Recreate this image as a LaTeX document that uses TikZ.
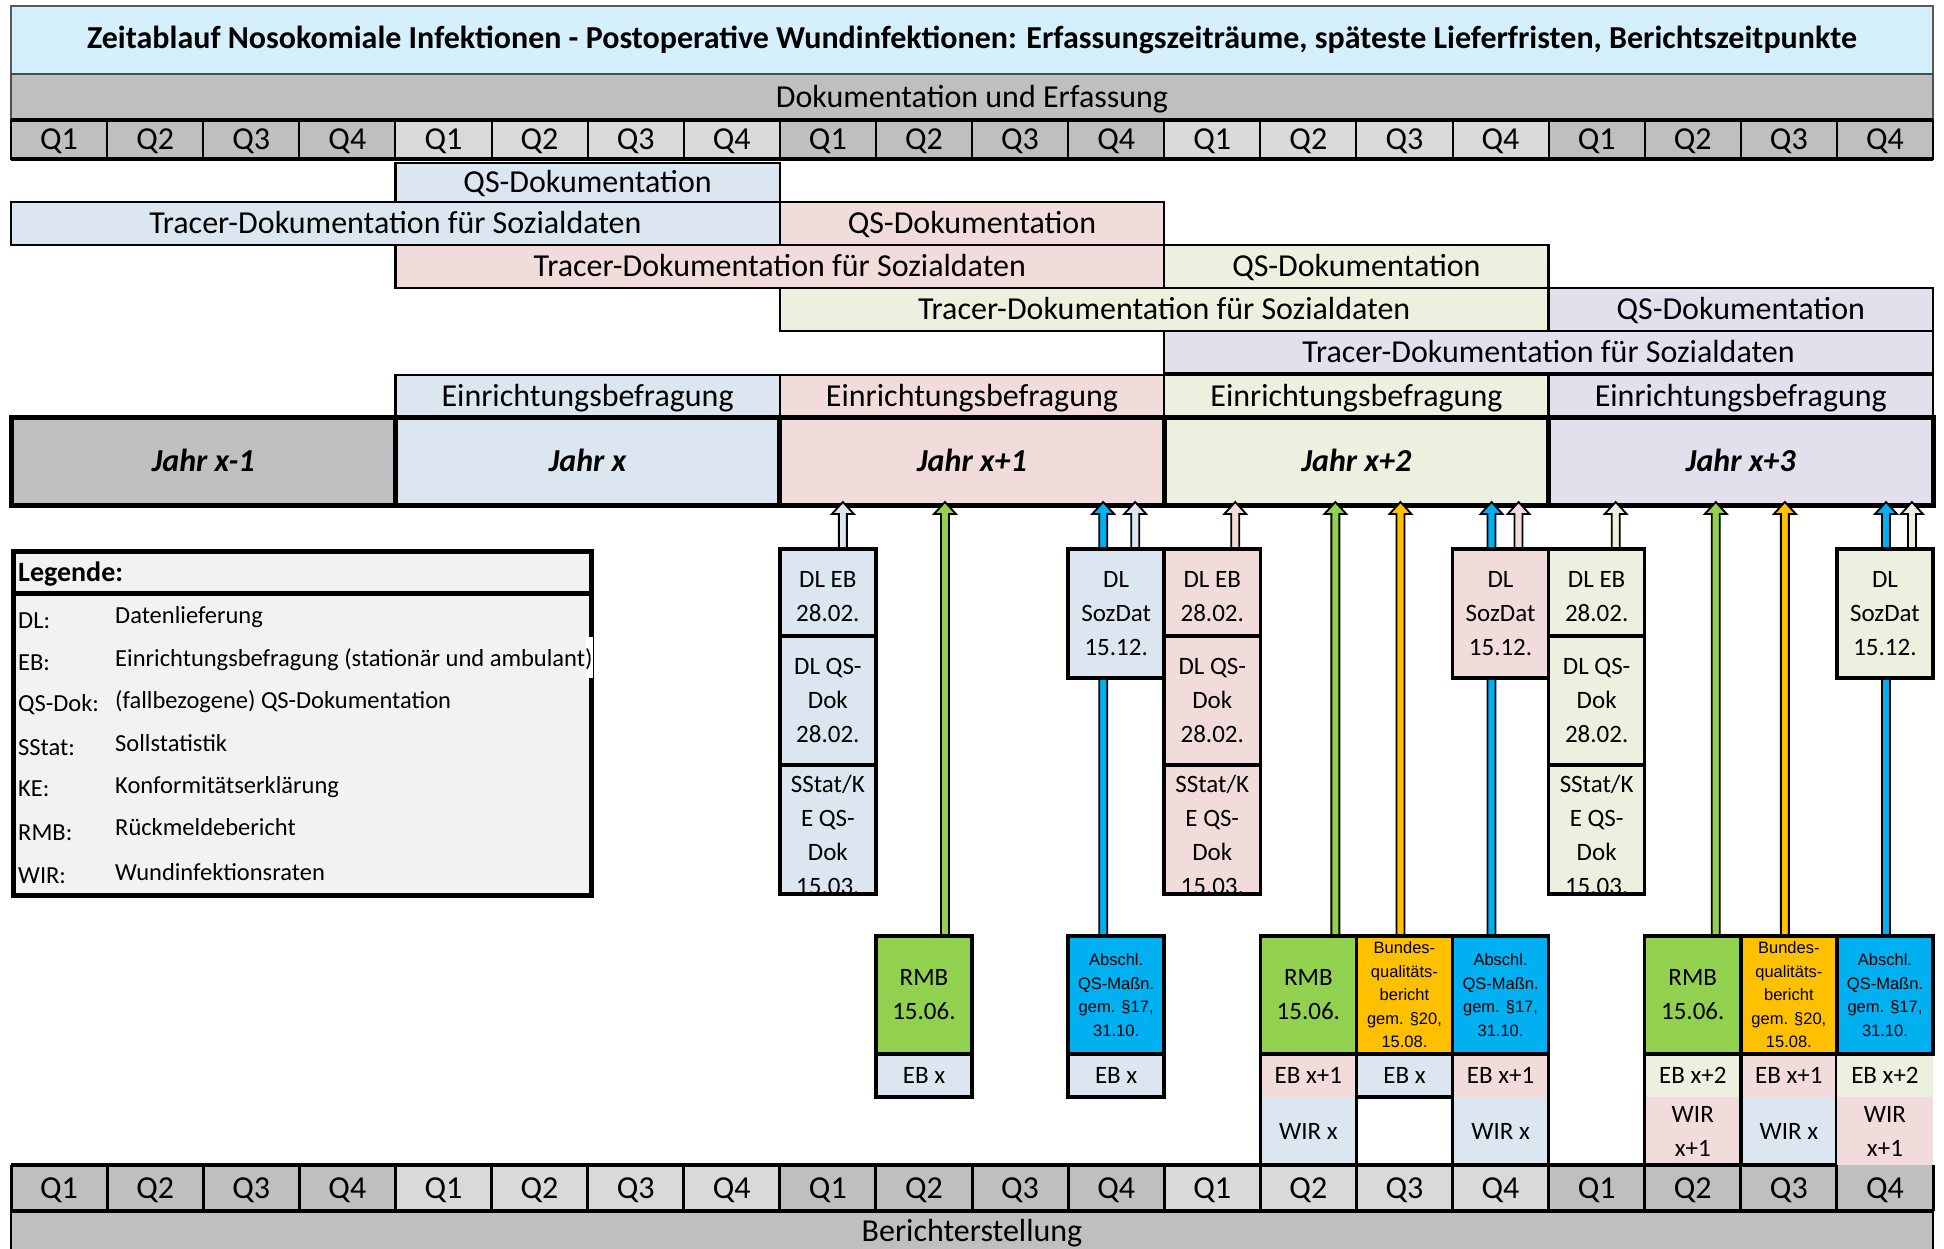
\documentclass[tikz,border=0pt]{standalone}
\usepackage{fontspec}
\setmainfont{Carlito}
\newfontfamily\arialfam{Liberation Sans}
\usetikzlibrary{calc}
\pgfdeclarelayer{bglayer}
\pgfdeclarelayer{arrlayer}
\pgfsetlayers{bglayer,arrlayer,main}

\definecolor{titlebg}{HTML}{D5EFFC}
\definecolor{dgray}{HTML}{BFBFBF}
\definecolor{lgray}{HTML}{D9D9D9}
\definecolor{cblue}{HTML}{DCE6F1}
\definecolor{cpink}{HTML}{F2DCDB}
\definecolor{cgreen}{HTML}{EBF1DE}
\definecolor{cpurple}{HTML}{E4DFEC}
\definecolor{rmbgreen}{HTML}{92D050}
\definecolor{bqorange}{HTML}{FFC000}
\definecolor{qsblue}{HTML}{00B0F0}
\definecolor{leggray}{HTML}{F2F2F2}

\newcommand\fmain{\fontsize{32}{38}\selectfont}
\newcommand\ftitle{\fontsize{32}{38}\selectfont\bfseries}
\newcommand\fjahr{\fontsize{32}{38}\selectfont\bfseries\itshape}
\newcommand\fdl{\fontsize{25}{34}\selectfont}
\newcommand\fleg{\fontsize{24.5}{30}\selectfont}
\newcommand\flegh{\fontsize{28}{34}\selectfont\bfseries}
\newcommand\fsmallbox{\arialfam\fontsize{16.5}{23.5}\selectfont}
\newcommand\lowerfirst[1]{\rule{0pt}{#1}}

% style, name, col start, col end, y top, y bottom, text
\newcommand\cellnode[7]{%
  \pgfmathsetmacro\cna{11+96.1*(#3)}%
  \pgfmathsetmacro\cnw{96.1*((#4)-(#3))}%
  \pgfmathsetmacro\cnh{(#6)-(#5)}%
  \node[#1, anchor=north west, minimum width=\cnw, minimum height=\cnh] (#2) at (\cna,#5) {#7};}

% fill colour, x shift, start anchor, target anchor
\newcommand\blkarrow[4]{%
  \draw[arrowline, fill=#1] let \p1=([xshift=#2]#3), \p2=(#4) in
    (\x1-4pt,\y1) -- (\x1-4pt,\y2-9pt) -- (\x1-11pt,\y2-9pt) -- (\x1,\y2+3pt)
    -- (\x1+11pt,\y2-9pt) -- (\x1+4pt,\y2-9pt) -- (\x1+4pt,\y1) -- cycle;}

\tikzset{
  cellbase/.style={inner sep=0pt, outer sep=0pt, align=center},
  oneline/.style={text height=20pt, text depth=0pt},
  titlec/.style={cellbase, draw=black!65, line width=1.5pt, fill=titlebg, font=\ftitle},
  bandc/.style={cellbase, draw=black!70, line width=1.5pt, fill=dgray, font=\fmain, oneline},
  qcell/.style={cellbase, draw=black, line width=2pt, font=\fmain, oneline},
  qbcell/.style={cellbase, font=\fmain, oneline},
  bar/.style={cellbase, draw=black, line width=2.5pt, font=\fmain, oneline},
  jahrc/.style={cellbase, draw=black, line width=5pt, font=\fjahr, oneline},
  dlbox/.style={cellbase, draw=black, line width=3.5pt, font=\fdl},
  topbox/.style={cellbase, draw=black, line width=3.5pt, font=\fdl},
  smallbox/.style={topbox, font=\fsmallbox},
  fillbox/.style={cellbase, font=\fdl},
  ebone/.style={text height=16pt, text depth=0pt},
  boxline/.style={draw=black, line width=3.5pt},
  thickline/.style={draw=black, line width=4pt},
  arrowline/.style={draw=black, line width=1.8pt, line join=miter},
  legabbr/.style={inner sep=0pt, anchor=base west, font=\fleg},
  legdesc/.style={inner sep=0pt, anchor=base west, font=\fleg},
}

\begin{document}
\begin{tikzpicture}[x=1pt,y=-1pt]
\useasboundingbox (0,0) rectangle (1944,1248);

\begin{pgfonlayer}{bglayer}
\fill[white] (0,0) rectangle (1944,1248);
\cellnode{titlec}{title}{0}{20}{6}{74}{Zeitablauf Nosokomiale Infektionen - Postoperative Wundinfektionen: Erfassungszeiträume, späteste Lieferfristen, Berichtszeitpunkte}
\cellnode{bandc}{band}{0}{20}{74}{120}{Dokumentation und Erfassung}
\foreach \i in {0,...,19}{
  \pgfmathtruncatemacro\qn{mod(\i,4)+1}
  \pgfmathtruncatemacro\blk{mod(floor(\i/4),2)}
  \ifnum\blk=1 \def\qc{lgray}\else\def\qc{dgray}\fi
  \cellnode{qcell,fill=\qc}{qt\i}{\i}{\i+1}{120}{159}{Q\qn}
}
\draw[thickline] (qt0.north west) -- (qt19.north east);
\draw[thickline] (qt0.south west) -- (qt19.south east);

% documentation bars
\cellnode{bar,fill=cblue}{qs1}{4}{8}{163}{202}{QS-Dokumentation}
\cellnode{bar,fill=cblue}{tr1}{0}{8}{202}{245}{Tracer-Dokumentation für Sozialdaten}
\cellnode{bar,fill=cpink}{qs2}{8}{12}{202}{245}{QS-Dokumentation}
\cellnode{bar,fill=cpink}{tr2}{4}{12}{245}{288}{Tracer-Dokumentation für Sozialdaten}
\cellnode{bar,fill=cgreen}{qs3}{12}{16}{245}{288}{QS-Dokumentation}
\cellnode{bar,fill=cgreen}{tr3}{8}{16}{288}{331}{Tracer-Dokumentation für Sozialdaten}
\cellnode{bar,fill=cpurple}{qs4}{16}{20}{288}{331}{QS-Dokumentation}
\cellnode{bar,fill=cpurple}{tr4}{12}{20}{331}{373}{Tracer-Dokumentation für Sozialdaten}

% Einrichtungsbefragung
\cellnode{bar,fill=cblue}{eb1}{4}{8}{375}{417}{Einrichtungsbefragung}
\cellnode{bar,fill=cpink}{eb2}{8}{12}{375}{417}{Einrichtungsbefragung}
\cellnode{bar,fill=cgreen}{eb3}{12}{16}{375}{417}{Einrichtungsbefragung}
\cellnode{bar,fill=cpurple}{eb4}{16}{20}{375}{417}{Einrichtungsbefragung}

% years
\cellnode{jahrc,fill=dgray}{jxm}{0}{4}{417}{505}{Jahr x-1}
\cellnode{jahrc,fill=cblue}{jx0}{4}{8}{417}{505}{Jahr x}
\cellnode{jahrc,fill=cpink}{jx1}{8}{12}{417}{505}{Jahr x+1}
\cellnode{jahrc,fill=cgreen}{jx2}{12}{16}{417}{505}{Jahr x+2}
\cellnode{jahrc,fill=cpurple}{jx3}{16}{20}{417}{505}{Jahr x+3}
\end{pgfonlayer}

% legend
\node[draw=black, line width=5pt, fill=leggray, anchor=north west, minimum width=578, minimum height=302, inner sep=0pt] (legbody) at (11,591) {};
\node[draw=black, line width=5pt, fill=leggray, anchor=north west, minimum width=578, minimum height=42, inner sep=0pt] (leghead) at (11,549) {};
\fill[white] (586,637) rectangle (593,678);
\node[inner sep=0pt, anchor=base west, font=\flegh] (legtitle) at (18,581) {Legende:};
\foreach \ab/\de/\ya/\yd [count=\k] in {DL:/Datenlieferung/628/623,
  EB:/Einrichtungsbefragung (stationär und ambulant)/670/666,
  QS-Dok:/(fallbezogene) QS-Dokumentation/711/708,
  SStat:/Sollstatistik/755/751,
  KE:/Konformitätserklärung/796/793,
  RMB:/Rückmeldebericht/840/835,
  WIR:/Wundinfektionsraten/883/880}{
  \node[legabbr] (lab\k) at (18,\ya) {\ab};
  \node[legdesc] (lde\k) at (115,\yd) {\de};
}

% delivery boxes
\cellnode{dlbox,fill=cblue}{dleb8}{8}{9}{549}{636}{\lowerfirst{24pt}DL EB\\28.02.}
\cellnode{dlbox,fill=cblue}{dlqs8}{8}{9}{636}{765}{DL QS-\\Dok\\28.02.}
\cellnode{dlbox,fill=cblue}{ss8}{8}{9}{765}{893}{\lowerfirst{27pt}SStat/K\\E QS-\\Dok\\15.03.}
\cellnode{dlbox,fill=cblue}{soz11}{11}{12}{549}{678}{DL\\SozDat\\15.12.}
\cellnode{dlbox,fill=cpink}{dleb12}{12}{13}{549}{636}{\lowerfirst{24pt}DL EB\\28.02.}
\cellnode{dlbox,fill=cpink}{dlqs12}{12}{13}{636}{765}{DL QS-\\Dok\\28.02.}
\cellnode{dlbox,fill=cpink}{ss12}{12}{13}{765}{893}{\lowerfirst{27pt}SStat/K\\E QS-\\Dok\\15.03.}
\cellnode{dlbox,fill=cpink}{soz15}{15}{16}{549}{678}{DL\\SozDat\\15.12.}
\cellnode{dlbox,fill=cgreen}{dleb16}{16}{17}{549}{636}{\lowerfirst{24pt}DL EB\\28.02.}
\cellnode{dlbox,fill=cgreen}{dlqs16}{16}{17}{636}{765}{DL QS-\\Dok\\28.02.}
\cellnode{dlbox,fill=cgreen}{ss16}{16}{17}{765}{893}{\lowerfirst{27pt}SStat/K\\E QS-\\Dok\\15.03.}
\cellnode{dlbox,fill=cgreen}{soz19}{19}{20}{549}{678}{DL\\SozDat\\15.12.}

% report boxes
\cellnode{topbox,fill=rmbgreen}{rmb9}{9}{10}{936}{1054}{RMB\\15.06.}
\cellnode{topbox,fill=cblue,ebone}{ebr9}{9}{10}{1054}{1097}{EB x}
\cellnode{smallbox,fill=qsblue}{abs11}{11}{12}{936}{1054}{Abschl.\\QS-Maßn.\\gem. §17,\\31.10.}
\cellnode{topbox,fill=cblue,ebone}{ebr11}{11}{12}{1054}{1097}{EB x}

\cellnode{topbox,fill=rmbgreen}{rmb13}{13}{14}{936}{1054}{RMB\\15.06.}
\cellnode{fillbox,fill=cpink,ebone}{ebr13}{13}{14}{1054}{1097}{EB x+1}
\cellnode{fillbox,fill=cblue,ebone}{wir13}{13}{14}{1097}{1165}{WIR x}
\draw[boxline] (ebr13.north west) rectangle (wir13.south east);

\cellnode{smallbox,fill=bqorange}{bq14}{14}{15}{936}{1054}{Bundes-\\qualitäts-\\bericht\\gem. §20,\\15.08.}
\cellnode{topbox,fill=cblue,ebone}{ebr14}{14}{15}{1054}{1097}{EB x}

\cellnode{smallbox,fill=qsblue}{abs15}{15}{16}{936}{1054}{Abschl.\\QS-Maßn.\\gem. §17,\\31.10.}
\cellnode{fillbox,fill=cpink,ebone}{ebr15}{15}{16}{1054}{1097}{EB x+1}
\cellnode{fillbox,fill=cblue,ebone}{wir15}{15}{16}{1097}{1165}{WIR x}
\draw[boxline] (ebr15.north west) rectangle (wir15.south east);

\cellnode{topbox,fill=rmbgreen}{rmb17}{17}{18}{936}{1054}{RMB\\15.06.}
\cellnode{fillbox,fill=cgreen,ebone}{ebr17}{17}{18}{1054}{1097}{EB x+2}
\cellnode{fillbox,fill=cpink}{wir17}{17}{18}{1097}{1165}{WIR\\x+1}
\draw[boxline] (ebr17.north west) rectangle (wir17.south east);

\cellnode{smallbox,fill=bqorange}{bq18}{18}{19}{936}{1054}{Bundes-\\qualitäts-\\bericht\\gem. §20,\\15.08.}
\cellnode{fillbox,fill=cpink,ebone}{ebr18}{18}{19}{1054}{1097}{EB x+1}
\cellnode{fillbox,fill=cblue,ebone}{wir18}{18}{19}{1097}{1165}{WIR x}
\draw[boxline] (ebr18.north west) rectangle (wir18.south east);

\cellnode{fillbox,fill=cgreen,ebone}{ebr19}{19}{20}{1054}{1097}{EB x+2}
\cellnode{fillbox,fill=cpink}{wir19}{19}{20}{1097}{1165}{WIR\\x+1}
\cellnode{smallbox,fill=qsblue}{abs19}{19}{20}{936}{1054}{Abschl.\\QS-Maßn.\\gem. §17,\\31.10.}

% bottom quarter row and reporting band
\foreach \i in {0,...,19}{
  \pgfmathtruncatemacro\qn{mod(\i,4)+1}
  \pgfmathtruncatemacro\blk{mod(floor(\i/4),2)}
  \ifnum\blk=1 \def\qc{lgray}\else\def\qc{dgray}\fi
  \cellnode{qbcell,fill=\qc}{qb\i}{\i}{\i+1}{1165}{1211}{Q\qn}
}
\foreach \i in {0,...,19}{
  \draw[black, line width=3pt] (qb\i.north west) -- (qb\i.south west);
}
\draw[black, line width=3pt] (qb19.north east) -- (qb19.south east);
\draw[thickline] (qb0.north west) -- (qb18.north east);
\cellnode{bandc,draw=black,line width=2pt}{bericht}{0}{20}{1211}{1252}{Berichterstellung}
\draw[thickline] (qb0.south west) -- (qb19.south east);

% arrows
\begin{pgfonlayer}{arrlayer}
\blkarrow{rmbgreen}{21pt}{rmb9.north}{jx1.south}
\blkarrow{rmbgreen}{27pt}{rmb13.north}{jx2.south}
\blkarrow{rmbgreen}{23pt}{rmb17.north}{jx3.south}
\blkarrow{bqorange}{-4pt}{bq14.north}{jx2.south}
\blkarrow{bqorange}{-4pt}{bq18.north}{jx3.south}
\blkarrow{qsblue}{-13pt}{abs11.north}{jx1.south}
\blkarrow{qsblue}{-9pt}{abs15.north}{jx2.south}
\blkarrow{qsblue}{1pt}{abs19.north}{jx3.south}
\blkarrow{cblue}{15pt}{dleb8.north}{jx1.south}
\blkarrow{cblue}{19pt}{soz11.north}{jx1.south}
\blkarrow{cpink}{23pt}{dleb12.north}{jx2.south}
\blkarrow{cpink}{18pt}{soz15.north}{jx2.south}
\blkarrow{cgreen}{19pt}{dleb16.north}{jx3.south}
\blkarrow{cgreen}{27pt}{soz19.north}{jx3.south}
\end{pgfonlayer}
\end{tikzpicture}
\end{document}
